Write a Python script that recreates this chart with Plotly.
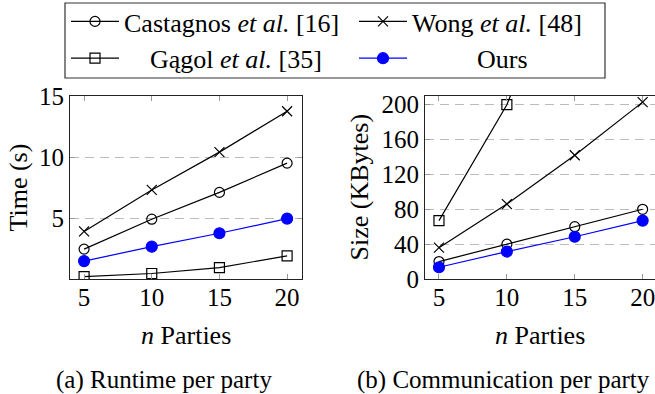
import plotly.graph_objects as go

W, H = 655, 394

parties = [5, 10, 15, 20]

# Runtime per party (s)
rt_castagnos = [2.45, 4.9, 7.1, 9.5]
rt_wong = [3.9, 7.3, 10.4, 13.75]
rt_gagol = [0.2, 0.45, 0.93, 1.9]
rt_ours = [1.47, 2.65, 3.75, 4.95]

# Communication per party (KBytes)
cm_castagnos = [20, 40, 60, 80]
cm_wong = [36, 86, 142, 203]
cm_gagol = [67, 200, 395, 650]
cm_ours = [13.5, 31.5, 48.5, 67]

x_ticks = [5, 10, 15, 20]
y1_ticks = [5, 10, 15]
y2_ticks = [0, 40, 80, 120, 160, 200]

SERIF = "Liberation Serif, Times New Roman, serif"
NB = "\u00a0"

names = ["Castagnos <i>et al.</i> [16]", "Wong <i>et al.</i> [48]",
         NB * 4 + "G\u0105gol <i>et al.</i> [35]", NB * 10 + "Ours"]
styles = [
    dict(color="black", symbol="circle-open", size=10),
    dict(color="black", symbol="x-thin-open", size=10),
    dict(color="black", symbol="square-open", size=10),
    dict(color="#0000ff", symbol="circle", size=11),
]
rt = [rt_castagnos, rt_wong, rt_gagol, rt_ours]
cm = [cm_castagnos, cm_wong, cm_gagol, cm_ours]

fig = go.Figure()
for i, (nm, st) in enumerate(zip(names, styles)):
    fig.add_trace(go.Scatter(
        x=parties, y=rt[i], mode="lines+markers", name=nm,
        line=dict(color=st["color"], width=1.2),
        marker=dict(symbol=st["symbol"], size=st["size"], color=st["color"],
                    line=dict(color=st["color"], width=1.2)),
        xaxis="x", yaxis="y", showlegend=True, legendgroup=str(i)))
for i, (nm, st) in enumerate(zip(names, styles)):
    fig.add_trace(go.Scatter(
        x=parties, y=cm[i], mode="lines+markers", name=nm,
        line=dict(color=st["color"], width=1.2),
        marker=dict(symbol=st["symbol"], size=st["size"], color=st["color"],
                    line=dict(color=st["color"], width=1.2)),
        xaxis="x2", yaxis="y2", showlegend=False, legendgroup=str(i)))

ydom = [1 - 279 / H, 1 - 96 / H]
common_x = dict(tickvals=x_ticks, ticks="inside", ticklen=5, tickcolor="#999",
                showline=True, linecolor="#222", linewidth=1.2, mirror="ticks",
                showgrid=False, zeroline=False, automargin=False,
                tickfont=dict(family=SERIF, size=25, color="black"),
                ticklabelstandoff=-4, ticklabeloverflow="allow")
common_y = dict(ticks="inside", ticklen=5, tickcolor="#999",
                showline=True, linecolor="#222", linewidth=1.2,
                showgrid=True, gridcolor="#bbbbbb", griddash="9px,6px", gridwidth=1,
                zeroline=False, automargin=False,
                tickfont=dict(family=SERIF, size=25, color="black"))

fig.update_layout(
    width=W, height=H,
    margin=dict(l=0, r=0, t=0, b=0, autoexpand=False),
    paper_bgcolor="white", plot_bgcolor="white",
    xaxis=dict(domain=[70 / W, 302 / W], range=[3.96, 21.1], anchor="y", **common_x),
    yaxis=dict(domain=ydom, range=[0, 15], tickvals=y1_ticks, anchor="x",
               mirror="ticks", **common_y),
    xaxis2=dict(domain=[425 / W, 1.0], range=[3.97, 20.91], anchor="y2", **common_x),
    yaxis2=dict(domain=ydom, range=[0, 210], tickvals=y2_ticks, anchor="x2",
                mirror=False, **common_y),
    legend=dict(orientation="h", x=66 / W, xanchor="left", y=1 + 2 / H, yanchor="top",
                borderwidth=0, bgcolor="rgba(0,0,0,0)",
                font=dict(family=SERIF, size=26, color="black"),
                entrywidth=225, itemwidth=48, traceorder="normal"),
    font=dict(family=SERIF, color="black"),
)

# legend frame
fig.add_shape(type="rect", xref="paper", yref="paper",
              x0=65 / W, x1=605 / W, y0=1 - 78 / H, y1=1 - 3 / H,
              line=dict(color="#333", width=1.2), fillcolor="rgba(0,0,0,0)", layer="above")

ann = [
    dict(text="Time (s)", x=18 / W, y=1 - 187.5 / H, textangle=-90, size=26),
    dict(text="Size (KBytes)", x=359 / W, y=1 - 187.5 / H, textangle=-90, size=26),
    dict(text="<i>n</i> Parties", x=186 / W, y=1 - 335 / H, textangle=0, size=26),
    dict(text="<i>n</i> Parties", x=540 / W, y=1 - 335 / H, textangle=0, size=26),
    dict(text="(a) Runtime per party", x=164 / W, y=1 - 380 / H, textangle=0, size=25),
    dict(text="(b) Communication per party", x=503 / W, y=1 - 380 / H, textangle=0, size=25),
]
for a in ann:
    fig.add_annotation(text=a["text"], x=a["x"], y=a["y"], xref="paper", yref="paper",
                       xanchor="center", yanchor="middle", showarrow=False,
                       textangle=a["textangle"],
                       font=dict(family=SERIF, size=a["size"], color="black"))

fig.write_html("out.html",
               config={"displayModeBar": False},
               post_script="document.body.style.margin='0px';document.body.style.overflow='hidden';")
